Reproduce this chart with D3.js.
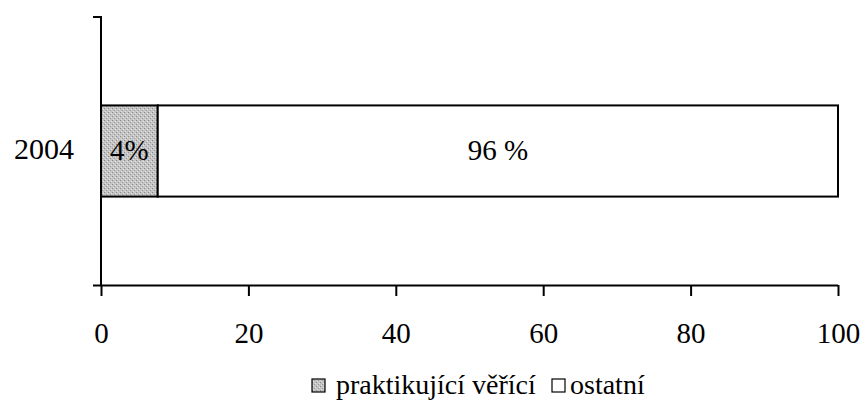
<!DOCTYPE html>
<html>
<head>
<meta charset="utf-8">
<script src="https://cdn.jsdelivr.net/npm/d3@7.9.0/dist/d3.min.js"></script>
<style>
  body { margin: 0; background: #fff; }
  svg text { font-family: "Liberation Serif", "Times New Roman", Times, "DejaVu Serif", serif !important; fill: #000; }
</style>
</head>
<body>
<svg id="chart" width="864" height="405"></svg>
<script>
const years = ["2004"];
const seriesNames = ["praktikující věřící", "ostatní"];
const believers = [7.7];
const others = [92.3];
const segmentLabels = [["4%", "96 %"]];
const xTicks = [0, 20, 40, 60, 80, 100];

const svg = d3.select("#chart");
const plotLeft = 101, plotRight = 838, plotTop = 17, plotBottom = 285;

const x = d3.scaleLinear().domain([0, 100]).range([plotLeft, plotRight]);
const y = d3.scaleBand().domain(years).range([plotTop, plotBottom]).paddingInner(0).paddingOuter(0.97);

const fills = ["url(#grain)", "#fff"];

// grainy gray pattern like the scanned original
const defs = svg.append("defs");
const pat = defs.append("pattern")
  .attr("id", "grain")
  .attr("width", 4).attr("height", 4)
  .attr("patternUnits", "userSpaceOnUse");
pat.append("rect").attr("width", 4).attr("height", 4).attr("fill", "#c4c4c4");
pat.append("rect").attr("x", 0).attr("y", 0).attr("width", 1).attr("height", 1).attr("fill", "#8a8a8a");
pat.append("rect").attr("x", 2).attr("y", 2).attr("width", 1).attr("height", 1).attr("fill", "#9a9a9a");
pat.append("rect").attr("x", 3).attr("y", 1).attr("width", 1).attr("height", 1).attr("fill", "#e6e6e6");
pat.append("rect").attr("x", 1).attr("y", 3).attr("width", 1).attr("height", 1).attr("fill", "#e0e0e0");

const stack = d3.stack().keys([0, 1]).value((d, k) => d[k]);
const rows = years.map((yr, i) => [believers[i], others[i]]);
const stacked = stack(rows);

stacked.forEach((layer, k) => {
  svg.selectAll(null)
    .data(layer)
    .join("rect")
    .attr("x", (d) => x(d[0]))
    .attr("y", (d, i) => y(years[i]))
    .attr("width", (d) => x(d[1]) - x(d[0]))
    .attr("height", y.bandwidth())
    .attr("fill", fills[k])
    .attr("stroke", "#000")
    .attr("stroke-width", 2);

  svg.selectAll(null)
    .data(layer)
    .join("text")
    .attr("x", (d) => (x(d[0]) + x(d[1])) / 2)
    .attr("y", (d, i) => y(years[i]) + y.bandwidth() / 2)
    .attr("dy", "0.3em")
    .attr("text-anchor", "middle")
    .attr("font-size", 29)
    .text((d, i) => segmentLabels[i][k]);
});

// x axis
const xAxis = svg.append("g")
  .attr("transform", `translate(0,${plotBottom})`)
  .call(d3.axisBottom(x).tickValues(xTicks).tickSize(11).tickPadding(26).tickSizeOuter(0));
xAxis.select(".domain").attr("d", `M${plotLeft - 8},0.5H${plotRight}`).attr("stroke-width", 2);
xAxis.selectAll(".tick line").attr("stroke-width", 2);
xAxis.selectAll("text").attr("font-size", 29);

// y axis
const yAxis = svg.append("g")
  .attr("transform", `translate(${plotLeft},0)`)
  .call(d3.axisLeft(y).tickSize(0).tickPadding(27));
yAxis.select(".domain").attr("d", `M-8,${plotTop}H0V${plotBottom}`).attr("stroke-width", 2);
yAxis.selectAll("text").attr("font-size", 30).attr("dy", "0.28em");

// legend
const legend = svg.append("g").attr("transform", "translate(0,394)");
const items = [
  { name: seriesNames[0], fill: fills[0], x: 312, tx: 336 },
  { name: seriesNames[1], fill: fills[1], x: 552, tx: 570 }
];
items.forEach((it) => {
  legend.append("rect")
    .attr("x", it.x).attr("y", -15)
    .attr("width", 13).attr("height", 13)
    .attr("fill", it.fill)
    .attr("stroke", "#000")
    .attr("stroke-width", 1.2);
  legend.append("text")
    .attr("x", it.tx).attr("y", 0)
    .attr("font-size", 28)
    .text(it.name);
});
</script>
</body>
</html>
